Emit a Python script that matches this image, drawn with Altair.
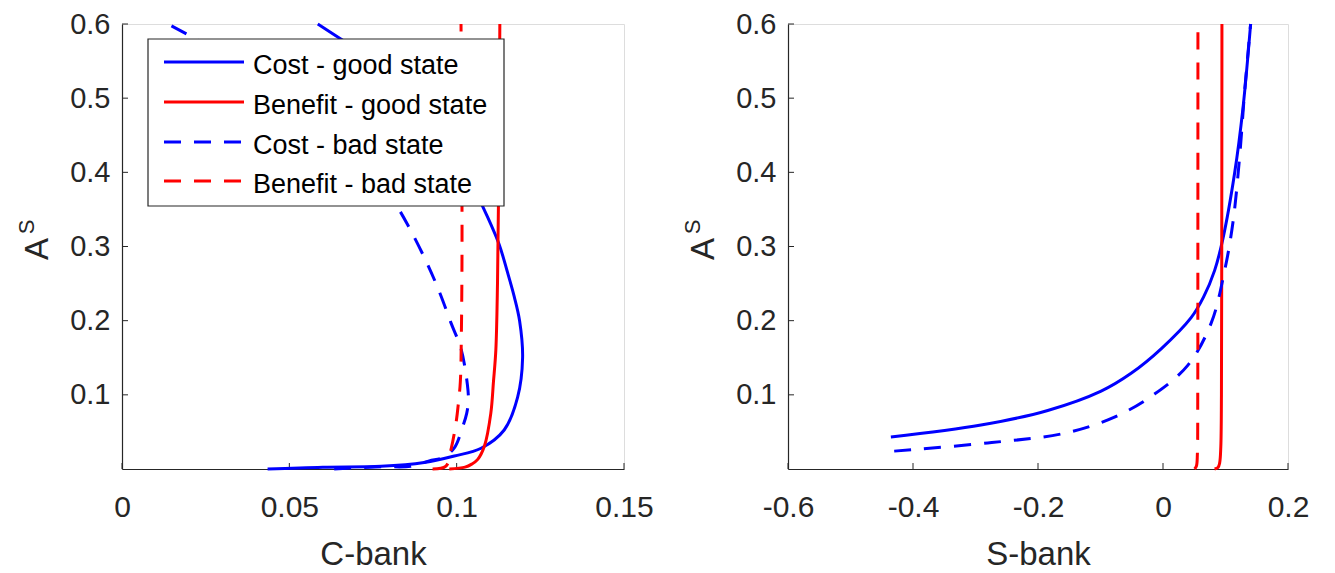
import altair as alt
import pandas as pd

# ---------------- data ----------------
# Left panel: C-bank
cg_l_x = [0.0435, 0.0600, 0.0774, 0.0903, 0.0993, 0.1073, 0.1142, 0.1182, 0.1197, 0.1188, 0.1172, 0.1152, 0.1127, 0.1088, 0.1050, 0.1004, 0.0950, 0.0885, 0.0795, 0.0699, 0.0585]
cg_l_y = [0.000, 0.0025, 0.0036, 0.0088, 0.0175, 0.028, 0.0526, 0.0965, 0.150, 0.200, 0.2325, 0.265, 0.3026, 0.344, 0.380, 0.420, 0.460, 0.500, 0.540, 0.5667, 0.600]
bg_l_x = [0.0978, 0.1025, 0.1045, 0.1063, 0.1083, 0.1102, 0.1110, 0.1117, 0.1122, 0.1126, 0.1129]
bg_l_y = [0.000, 0.0025, 0.0066, 0.013, 0.031, 0.075, 0.118, 0.160, 0.250, 0.400, 0.600]
cb_l_x = [0.0634, 0.0774, 0.0863, 0.0918, 0.0958, 0.0993, 0.1018, 0.1030, 0.1035, 0.1032, 0.1013, 0.0983, 0.0950, 0.0913, 0.0854, 0.0800, 0.0720, 0.0610, 0.0460, 0.0261, 0.0137]
cb_l_y = [0.000, 0.0030, 0.0036, 0.011, 0.0154, 0.0285, 0.057, 0.075, 0.092, 0.114, 0.162, 0.197, 0.237, 0.276, 0.329, 0.370, 0.420, 0.470, 0.520, 0.570, 0.600]
bb_l_x = [0.0928, 0.0968, 0.0983, 0.0998, 0.1005, 0.1011, 0.1014, 0.1016, 0.1015, 0.1013]
bb_l_y = [0.000, 0.004, 0.026, 0.062, 0.088, 0.118, 0.180, 0.300, 0.450, 0.600]

# Right panel: S-bank
cg_r_x = [-0.4354, -0.2912, -0.1844, -0.0990, -0.0510, -0.0030, 0.0450, 0.0650, 0.0825, 0.0960, 0.1146, 0.1280, 0.1402]
cg_r_y = [0.043, 0.0592, 0.0789, 0.105, 0.129, 0.162, 0.204, 0.232, 0.2675, 0.311, 0.399, 0.487, 0.600]
bg_r_x = [0.0825, 0.0880, 0.0906, 0.0925, 0.0935, 0.0940, 0.0943]
bg_r_y = [0.000, 0.002, 0.008, 0.030, 0.100, 0.300, 0.600]
cb_r_x = [-0.4301, -0.2805, -0.1578, -0.0777, -0.0136, 0.0399, 0.0772, 0.0986, 0.1120, 0.1226, 0.1306, 0.1402]
cb_r_y = [0.0241, 0.0351, 0.0482, 0.070, 0.101, 0.140, 0.197, 0.2675, 0.333, 0.421, 0.509, 0.600]
bb_r_x = [0.0505, 0.0535, 0.0550, 0.0556, 0.0558, 0.0559]
bb_r_y = [0.000, 0.004, 0.020, 0.100, 0.300, 0.600]

series_names = ["Cost - good state", "Benefit - good state", "Cost - bad state", "Benefit - bad state"]
series_colors = ["#0000ff", "#ff0000", "#0000ff", "#ff0000"]
series_dashed = [False, False, True, True]

x_ticks_left = [0, 0.05, 0.1, 0.15]
x_ticks_right = [-0.6, -0.4, -0.2, 0, 0.2]
y_ticks = [0.1, 0.2, 0.3, 0.4, 0.5, 0.6]
x_title_left = "C-bank"
x_title_right = "S-bank"

# ---------------- styling ----------------
FONT = "Liberation Sans"
AX = "#262626"
LW = 3
DASH = [17, 13]
H = 445
W_L = 502
W_R = 500
TOP_SHIFT = 11  # plot top lies this much lower than in the reference


def x_axis(values, title):
    return alt.Axis(values=values, labelExpr="'' + datum.value", ticks=False, tickSize=0,
                    grid=False, domainColor=AX, domainWidth=1.2, labelFont=FONT,
                    labelFontSize=30, labelColor=AX, labelPadding=23, labelFlush=False,
                    labelOverlap=False, title=title, titleFont=FONT, titleFontSize=33,
                    titleFontWeight="normal", titleColor=AX, titleY=95,
                    titleBaseline="alphabetic")


y_axis = alt.Axis(values=y_ticks, labelExpr="'' + datum.value", ticks=False, tickSize=0,
                  grid=False, domainColor=AX, domainWidth=1.2, labelFont=FONT,
                  labelFontSize=29, labelColor=AX, labelPadding=12, labelFlush=False,
                  labelOverlap=False, title=None)

y_scale = alt.Scale(domain=[0, 0.6], nice=False, zero=False)


def line_layer(xs, ys, color, dashed, xsc, xax):
    df = pd.DataFrame({"x": xs, "y": ys, "i": list(range(len(xs)))})
    kw = dict(color=color, strokeWidth=LW, interpolate="catmull-rom")
    if dashed:
        kw["strokeDash"] = DASH
    return alt.Chart(df).mark_line(**kw).encode(
        x=alt.X("x:Q", scale=xsc, axis=xax),
        y=alt.Y("y:Q", scale=y_scale, axis=y_axis),
        order="i:Q",
    )


def tick_layers(xvals, xsc, xax, height):
    yt = alt.Chart(pd.DataFrame({"y": y_ticks})).mark_rule(color=AX, strokeWidth=1).encode(
        y=alt.Y("y:Q", scale=y_scale, axis=y_axis), x=alt.value(0), x2=alt.value(6))
    xt = alt.Chart(pd.DataFrame({"x": xvals})).mark_rule(color=AX, strokeWidth=1).encode(
        x=alt.X("x:Q", scale=xsc, axis=xax), y=alt.value(height), y2=alt.value(height - 6))
    return [yt, xt]


def ylabel_layers():
    a = alt.Chart(pd.DataFrame({"t": ["A"]})).mark_text(
        font=FONT, fontSize=33, angle=270, baseline="alphabetic", align="center", color=AX
    ).encode(x=alt.value(-74), y=alt.value(236 - TOP_SHIFT), text="t:N")
    s = alt.Chart(pd.DataFrame({"t": ["S"]})).mark_text(
        font=FONT, fontSize=22, angle=270, baseline="alphabetic", align="center", color=AX
    ).encode(x=alt.value(-88), y=alt.value(214 - TOP_SHIFT), text="t:N")
    return [a, s]


def legend_layers():
    layers = []
    box = alt.Chart(pd.DataFrame({"a": [0]})).mark_rect(
        fill="white", stroke=AX, strokeWidth=1.2
    ).encode(x=alt.value(26), x2=alt.value(382),
             y=alt.value(24 - TOP_SHIFT + 2), y2=alt.value(193 - TOP_SHIFT))
    layers.append(box)
    row_y = [49, 89, 129, 168]
    for name, col, dashed, ry in zip(series_names, series_colors, series_dashed, row_y):
        kw = dict(color=col, strokeWidth=LW)
        if dashed:
            kw["strokeDash"] = DASH
        layers.append(alt.Chart(pd.DataFrame({"a": [0]})).mark_rule(**kw).encode(
            x=alt.value(42), x2=alt.value(122), y=alt.value(ry - TOP_SHIFT)))
        layers.append(alt.Chart(pd.DataFrame({"t": [name]})).mark_text(
            font=FONT, fontSize=27, align="left", baseline="alphabetic", color="black"
        ).encode(x=alt.value(131), y=alt.value(ry + 12 - TOP_SHIFT), text="t:N"))
    return layers


# ---------------- left panel ----------------
xsc_l = alt.Scale(domain=[0, 0.15], nice=False, zero=False)
xax_l = x_axis(x_ticks_left, x_title_left)
left_data = [(cg_l_x, cg_l_y), (bg_l_x, bg_l_y), (cb_l_x, cb_l_y), (bb_l_x, bb_l_y)]
left_layers = tick_layers(x_ticks_left, xsc_l, xax_l, H)
for (xs, ys), col, d in zip(left_data, series_colors, series_dashed):
    left_layers.append(line_layer(xs, ys, col, d, xsc_l, xax_l))
left_layers += legend_layers() + ylabel_layers()
left = alt.layer(*left_layers).properties(width=W_L, height=H)

# ---------------- right panel ----------------
xsc_r = alt.Scale(domain=[-0.6, 0.2], nice=False, zero=False)
xax_r = x_axis(x_ticks_right, x_title_right)
right_data = [(cg_r_x, cg_r_y), (bg_r_x, bg_r_y), (cb_r_x, cb_r_y), (bb_r_x, bb_r_y)]
right_layers = tick_layers(x_ticks_right, xsc_r, xax_r, H)
for (xs, ys), col, d in zip(right_data, series_colors, series_dashed):
    right_layers.append(line_layer(xs, ys, col, d, xsc_r, xax_r))
right_layers += ylabel_layers()
right = alt.layer(*right_layers).properties(width=W_R, height=H)

chart = alt.hconcat(left, right, spacing=164, bounds="flush").properties(
    padding={"left": 7, "top": 1, "right": 5, "bottom": 0}
).configure_view(stroke=None).configure(background="white")

chart.save("out.html", embed_options={"renderer": "svg", "actions": False})
